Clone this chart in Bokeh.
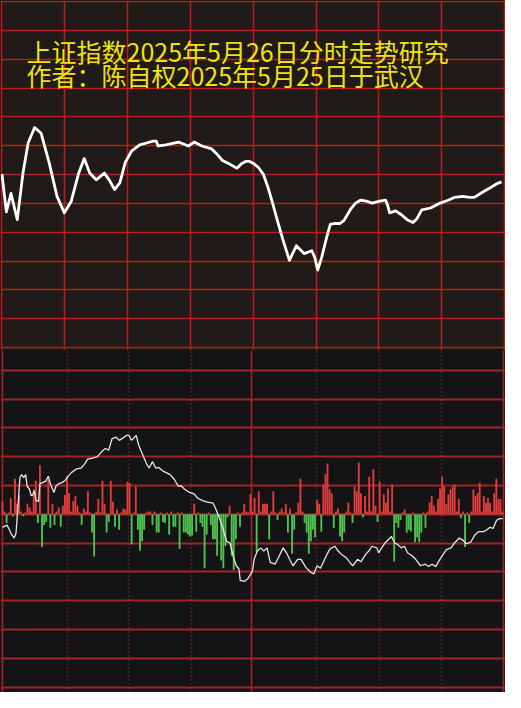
from bokeh.plotting import figure
from bokeh.models import Range1d, FixedTicker, Grid, Label, ColumnDataSource
from bokeh.layouts import column
from bokeh.embed import file_html
from bokeh.resources import INLINE

# ---------------- data ----------------
title_line1 = "上证指数2025年5月26日分时走势研究"
title_line2 = "作者：陈自权2025年5月25日于武汉"

# intraday index line (minute of session, index value)
price_minutes = [0, 2.1, 4.3, 7.3, 10.1, 12.5, 15.6, 18.7, 22.5, 26.3,
                 29.8, 33.1, 36.5, 39.3, 41.9, 45.0, 48.9, 51.2, 53.8, 56.3,
                 58.9, 62.0, 65.8, 69.0, 72.3, 73.7, 74.6, 78.3, 84.3, 86.7,
                 89.0, 91.8, 93.6, 95.5, 100.1, 102.5, 105.3, 109.0, 112.2, 114.6,
                 116.4, 118.3, 120.1, 122.4, 124.8, 127.1, 129.4, 131.7, 134.1, 137.3,
                 140.6, 144.3, 148.0, 149.4, 150.8, 152.7, 155.0, 156.8, 159.2, 161.5,
                 163.3, 166.6, 168.9, 171.2, 174.0, 176.8, 180.5, 183.3, 184.3, 185.2,
                 188.0, 190.8, 193.5, 196.3, 198.2, 200.5, 204.7, 209.3, 213.1, 216.3,
                 220.0, 223.3, 225.6, 229.3, 232.6, 236.3, 238.6]
price_values = [3354.05, 3350.12, 3352.03, 3349.31, 3354.25, 3357.28, 3358.89, 3358.29, 3355.26, 3351.73,
                3350.02, 3351.23, 3354.05, 3355.66, 3354.15, 3353.45, 3354.15, 3353.45, 3352.44, 3353.14,
                3355.26, 3356.47, 3357.08, 3357.28, 3357.48, 3357.48, 3356.97, 3357.08, 3357.38, 3357.18,
                3356.97, 3357.38, 3357.18, 3356.97, 3356.67, 3356.17, 3355.46, 3355.06, 3354.66, 3355.16,
                3355.36, 3355.36, 3355.16, 3354.76, 3354.05, 3352.64, 3350.92, 3349.11, 3347.29, 3345.08,
                3346.59, 3345.78, 3346.08, 3345.38, 3344.07, 3345.38, 3347.40, 3348.81, 3348.91, 3348.91,
                3349.21, 3350.42, 3351.03, 3351.33, 3351.23, 3351.03, 3351.23, 3351.33, 3350.72, 3350.02,
                3350.22, 3349.82, 3349.31, 3349.01, 3349.41, 3350.32, 3350.52, 3351.03, 3351.33, 3351.63,
                3351.73, 3351.63, 3351.63, 3352.13, 3352.54, 3353.04, 3353.24]

# per-minute buy/sell bars (positive red, negative green)
bar_minutes = list(range(241))
bar_values = [13, 3, -9, 2, 17, -2, 37, 11, 20, 3,
              -2, 2, 11, 7, 3, 26, 35, -9, 51, -34,
              -11, -8, 36, -14, 11, -11, 3, 7, -13, 9,
              20, 40, 22, 3, 14, 19, 9, 2, -11, 6,
              3, 24, 2, -19, -44, 3, 16, 2, 35, 11,
              -19, -8, 35, 13, -13, 5, -16, 2, 6, 5,
              34, 33, -31, 2, 29, -16, -38, -28, -16, 2,
              3, 3, -11, 3, -19, -19, 2, -8, -9, 2,
              -21, 3, -13, -13, 2, -36, 2, -19, -19, -21,
              -23, -22, 11, -18, 2, -9, -13, -56, -21, 2,
              -11, -26, -26, -43, -3, -48, -56, -33, -3, 9,
              -43, -58, -26, 2, -13, 2, 11, 3, 2, 21,
              3, 17, -39, 24, 3, 11, 11, 11, -26, 3,
              24, 2, -6, 3, 6, 2, 11, -19, 6, -41,
              -16, 2, 12, 37, 3, -9, -19, -41, -28, -16,
              -24, 15, 11, -18, 31, 42, 53, 26, 22, -14,
              3, 6, -23, -28, -19, 3, 12, 2, -9, 29,
              24, 54, 22, -3, 19, 3, 39, 3, 47, 9,
              -8, 34, 3, 21, 12, 27, 3, 31, -49, -9,
              -14, -6, 2, 5, -19, -16, -18, 2, -29, -24,
              -29, -19, 2, -14, 3, 12, 19, 9, 3, 16,
              27, 39, 29, 11, 21, 26, 29, 31, 3, 16,
              -4, 3, -34, 2, -9, 3, 26, 19, 22, 33,
              3, 19, 12, 17, 12, 3, 22, 37, 16, 16,
              3]

# cumulative flow line in lower panel
flow_minutes = [0, 2.2, 3.4, 4.5, 5.6, 6.5, 7.1, 7.6, 8.4, 9.2,
                10.2, 11.2, 11.8, 13.0, 13.8, 14.6, 15.3, 16.1, 17.3, 18.0,
                19.2, 20.8, 22.0, 23.1, 24.7, 25.7, 27.0, 28.5, 30.1, 31.6,
                33.2, 35.5, 37.8, 39.4, 40.9, 43.3, 45.6, 47.9, 49.4, 51.0,
                52.6, 54.6, 56.1, 57.7, 59.5, 60.8, 61.9, 63.4, 64.2, 65.4,
                67.0, 68.0, 69.2, 70.4, 72.0, 73.5, 75.0, 77.3, 80.5, 82.5,
                84.3, 85.9, 87.4, 89.8, 92.1, 93.6, 96.0, 98.3, 101.1, 102.7,
                104.5, 106.0, 107.6, 109.2, 110.7, 112.2, 113.5, 114.1, 116.1, 117.7,
                119.2, 120.0, 120.8, 122.3, 123.9, 125.4, 127.0, 128.5, 130.8, 132.4,
                134.7, 136.3, 137.8, 139.4, 141.7, 143.3, 145.6, 147.9, 149.4, 151.0,
                152.6, 155.7, 157.2, 159.5, 161.1, 162.7, 165.0, 166.5, 168.1, 170.4,
                172.0, 174.3, 175.8, 177.3, 179.7, 180.5, 182.0, 183.6, 185.1, 186.7,
                188.2, 189.8, 191.3, 192.9, 194.4, 196.7, 198.3, 200.6, 202.9, 204.5,
                206.0, 208.0, 209.9, 211.5, 213.0, 215.3, 216.9, 219.2, 221.1, 222.3,
                224.7, 226.7, 228.5, 230.8, 232.4, 233.9, 235.5, 237.1, 238.6, 240.1]
flow_values = [-13.5, -11.2, -16.3, -21.4, -24.7, -19.6, -2.3, 14.2, 38.3, 41.4,
               38.3, 41.4, 29.5, 26.1, 19.3, 20.3, 24.4, 14.2, 13.6, 31.9,
               33.0, 34.6, 39.7, 31.2, 22.8, 29.5, 31.9, 33.0, 35.3, 39.7,
               43.7, 47.2, 48.2, 52.3, 57.4, 58.4, 60.0, 65.8, 68.5, 66.8,
               78.7, 80.3, 77.0, 79.3, 82.1, 82.1, 77.0, 80.3, 82.1, 71.9,
               63.5, 58.4, 52.3, 48.2, 54.9, 48.2, 48.8, 44.7, 41.4, 36.3,
               29.5, 29.5, 26.1, 22.8, 21.1, 17.0, 14.2, 12.6, 11.6, 4.1,
               -6.1, -16.3, -28.1, -29.8, -43.3, -53.5, -56.9, -68.7, -69.8, -67.1,
               -62.0, -58.6, -46.8, -38.2, -34.9, -38.2, -34.9, -50.1, -51.9, -45.1,
               -34.9, -40.0, -46.8, -53.5, -46.8, -46.8, -55.2, -60.3, -62.0, -53.5,
               -56.2, -41.7, -35.9, -33.2, -38.2, -41.7, -45.1, -49.4, -53.5, -46.8,
               -49.4, -41.7, -38.2, -33.2, -34.9, -40.0, -34.9, -29.8, -26.4, -23.0,
               -29.8, -31.5, -34.9, -33.2, -40.0, -43.3, -46.8, -53.5, -51.9, -54.2,
               -51.9, -54.2, -46.8, -41.7, -36.6, -34.9, -29.8, -24.7, -27.1, -30.5,
               -29.1, -21.4, -17.9, -17.9, -16.3, -13.5, -14.5, -6.1, -4.4, -4.4]

# ---------------- styles ----------------
TOP_BG = "#201a18"
BOT_BG = "#141416"
GRID_RED = "#b41e1e"
GRID_RED2 = "#a02424"
YELLOW = "#f2e210"
UP = "#e23c3c"
DOWN = "#4ec24e"

W = 505

# ---------------- top panel ----------------
top = figure(width=W, height=350, output_backend="svg", toolbar_location=None,
             x_axis_type=None, y_axis_type=None,
             x_range=Range1d(-0.7, 240.5), y_range=Range1d(3335.7, 3372.1),
             min_border=0, background_fill_color=TOP_BG, border_fill_color=TOP_BG,
             outline_line_color=None)
top.add_layout(Grid(dimension=0, ticker=FixedTicker(ticks=[0, 30, 60, 90, 120, 150, 180, 210, 240]),
                    grid_line_color=GRID_RED, grid_line_width=1.6))
top.add_layout(Grid(dimension=1, ticker=FixedTicker(ticks=[3336 + 3 * k for k in range(13)]),
                    grid_line_color=GRID_RED, grid_line_width=1.6))
top.line(price_minutes, price_values, line_color="white", line_width=2.8, line_join="round")
top.add_layout(Label(x=26, y=300, x_units="screen", y_units="screen", text=title_line1,
                     text_font="Noto Sans CJK SC", text_font_size="25px", text_color=YELLOW,
                     text_baseline="middle"))
top.add_layout(Label(x=26, y=276, x_units="screen", y_units="screen", text=title_line2,
                     text_font="Noto Sans CJK SC", text_font_size="25px", text_color=YELLOW,
                     text_baseline="middle"))

# ---------------- bottom panel ----------------
bot = figure(width=W, height=342, output_backend="svg", toolbar_location=None,
             x_axis_type=None, y_axis_type=None,
             x_range=Range1d(-0.93, 241.4), y_range=Range1d(-185.4, 170.5),
             min_border=0, background_fill_color=BOT_BG, border_fill_color=BOT_BG,
             outline_line_color=None)
bot.add_layout(Grid(dimension=1, ticker=FixedTicker(ticks=[-180, -150, -120, -90, -60, -30, 0, 30, 60, 90, 120, 150]),
                    grid_line_color=GRID_RED2, grid_line_width=2))
bot.add_layout(Grid(dimension=0, ticker=FixedTicker(ticks=[31.2, 60.5, 90.7, 150.7, 180.9, 210.7]),
                    grid_line_color=GRID_RED2, grid_line_width=1.5, grid_line_dash="1 3"))
bot.add_layout(Grid(dimension=0, ticker=FixedTicker(ticks=[0, 119.5, 240.3]),
                    grid_line_color=GRID_RED2, grid_line_width=1.6))

bar_colors = [UP if v >= 0 else DOWN for v in bar_values]
src = ColumnDataSource(dict(x=bar_minutes, top=bar_values, color=bar_colors))
bot.vbar(x="x", top="top", bottom=0, width=0.9, fill_color="color", line_color=None, source=src)
bot.line(flow_minutes, flow_values, line_color="#e6e6e6", line_width=1.3)

layout = column(top, bot, spacing=0, styles={"background-color": BOT_BG})
open("out.html", "w").write(file_html(layout, INLINE))
